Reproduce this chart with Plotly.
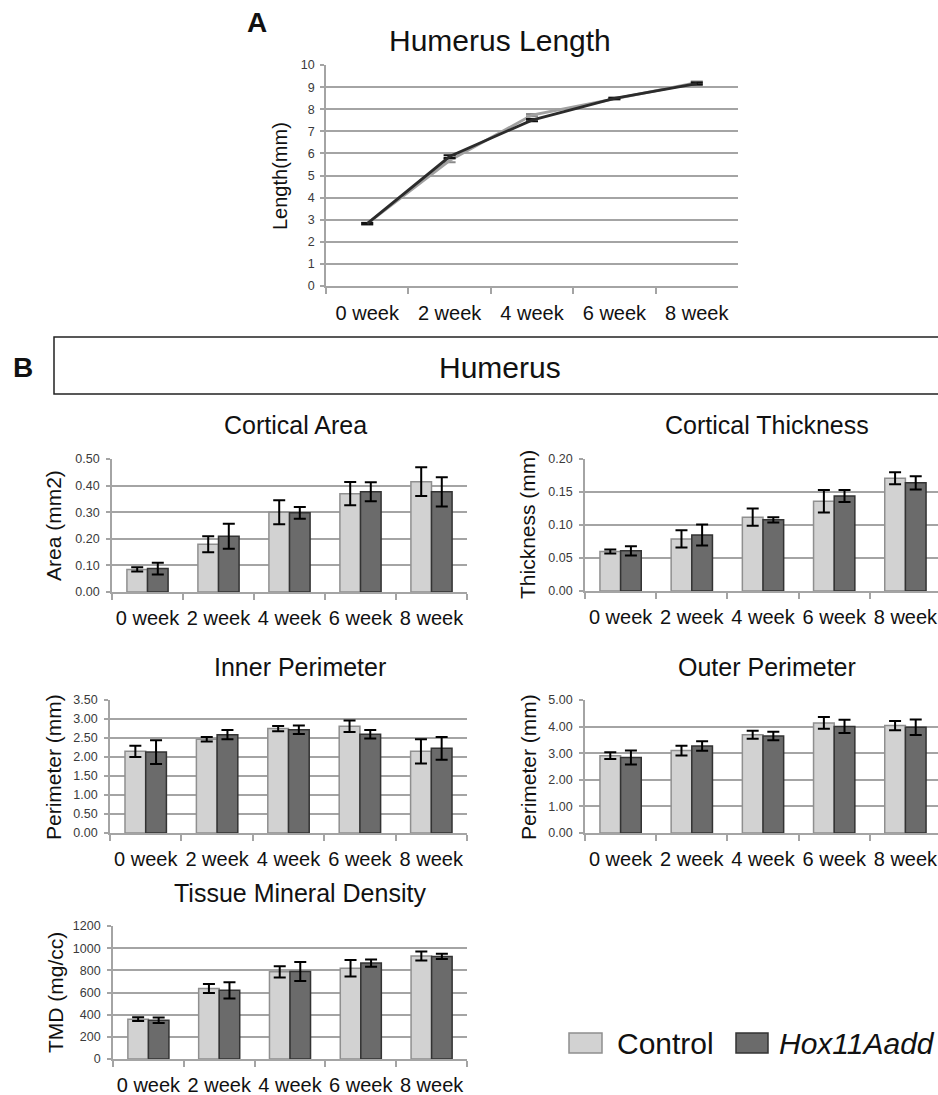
import plotly.graph_objects as go

W, H = 938, 1095
FONT = "Liberation Sans, Arial, Helvetica, sans-serif"

weeks = ["0 week", "2 week", "4 week", "6 week", "8 week"]
series_names = ["Control", "Hox11Aadd"]

# Panel A: Humerus length (mm)
len_ctrl = [2.82, 5.68, 7.74, 8.49, 9.21]
len_ctrl_err = [0.04, 0.08, 0.05, 0.03, 0.05]
len_hox = [2.82, 5.86, 7.51, 8.49, 9.16]
len_hox_err = [0.03, 0.06, 0.05, 0.03, 0.05]

# Panel B
area_ctrl = [0.085, 0.180, 0.300, 0.370, 0.415]
area_ctrl_err = [0.008, 0.030, 0.045, 0.044, 0.054]
area_hox = [0.088, 0.210, 0.298, 0.377, 0.377]
area_hox_err = [0.022, 0.047, 0.022, 0.036, 0.055]

thick_ctrl = [0.060, 0.079, 0.112, 0.136, 0.171]
thick_ctrl_err = [0.003, 0.013, 0.013, 0.017, 0.009]
thick_hox = [0.061, 0.085, 0.108, 0.144, 0.164]
thick_hox_err = [0.007, 0.016, 0.004, 0.009, 0.010]

inner_ctrl = [2.15, 2.47, 2.75, 2.81, 2.15]
inner_ctrl_err = [0.15, 0.06, 0.07, 0.15, 0.32]
inner_hox = [2.13, 2.59, 2.72, 2.60, 2.23]
inner_hox_err = [0.31, 0.12, 0.11, 0.11, 0.30]

outer_ctrl = [2.91, 3.10, 3.70, 4.14, 4.04]
outer_ctrl_err = [0.13, 0.18, 0.15, 0.22, 0.17]
outer_hox = [2.84, 3.27, 3.65, 4.01, 3.98]
outer_hox_err = [0.26, 0.18, 0.16, 0.25, 0.29]

tmd_ctrl = [360, 637, 787, 820, 930]
tmd_ctrl_err = [16, 40, 51, 75, 40]
tmd_hox = [350, 620, 790, 866, 926]
tmd_hox_err = [25, 73, 86, 33, 24]

CTRL_FILL, CTRL_LINE = "#d2d2d2", "#8f8f8f"
HOX_FILL, HOX_LINE = "#6b6b6b", "#333333"
GRID = "#a4a4a4"
TICKC = "#3a3a3a"


def px(x):
    return x / W


def py(y):
    return 1 - y / H


fig = go.Figure()

# ---------- Panel A ----------
fig.add_trace(go.Scatter(
    x=weeks, y=len_ctrl, mode="lines", name=series_names[0],
    line=dict(color="#a0a0a0", width=2.8),
    error_y=dict(type="data", array=len_ctrl_err, color="#8a8a8a", thickness=2, width=6),
    xaxis="x", yaxis="y", showlegend=False))
fig.add_trace(go.Scatter(
    x=weeks, y=len_hox, mode="lines", name=series_names[1],
    line=dict(color="#2b2b2b", width=2.8),
    error_y=dict(type="data", array=len_hox_err, color="#111111", thickness=2, width=6),
    xaxis="x", yaxis="y", showlegend=False))

layout_axes = {}


def xaxis_cfg(domain, rng, anchor, standoff):
    return dict(domain=domain, anchor=anchor, type="category", range=rng,
                showline=True, linecolor=GRID, linewidth=1.8,
                ticks="outside", ticklen=6, tickwidth=1.5, tickcolor=GRID,
                tickson="boundaries", showgrid=False, zeroline=False,
                tickangle=0, automargin=False,
                tickfont=dict(size=20, color="#111111", family=FONT),
                ticklabelstandoff=standoff)


def yaxis_cfg(domain, rng, dtick, fmt, anchor, fsize=12.5, standoff=4):
    return dict(domain=domain, anchor=anchor, range=rng, dtick=dtick, tickformat=fmt,
                showline=True, linecolor=GRID, linewidth=1.8,
                ticks="outside", ticklen=4, tickwidth=1.5, tickcolor=GRID,
                showgrid=True, gridcolor=GRID, gridwidth=1.8, zeroline=False,
                automargin=False,
                tickfont=dict(size=fsize, color=TICKC, family=FONT),
                ticklabelstandoff=standoff)


layout_axes["xaxis"] = xaxis_cfg([px(326), px(738)], [-0.5, 4.5], "y", 8)
layout_axes["yaxis"] = yaxis_cfg([py(286), py(65)], [0, 10.005], 1, "d", "x", fsize=12.5, standoff=3)

# ---------- Panel B bar charts ----------
charts = [
    # (ctrl, ctrl_err, hox, hox_err, x0, x1, ytop, ybot, ymax, dtick, fmt, right_col)
    (area_ctrl, area_ctrl_err, area_hox, area_hox_err, 112, 467, 459, 592, 0.5, 0.1, ".2f", False),
    (thick_ctrl, thick_ctrl_err, thick_hox, thick_hox_err, 585, 938, 459, 591, 0.2, 0.05, ".2f", True),
    (inner_ctrl, inner_ctrl_err, inner_hox, inner_hox_err, 110, 467, 700, 833, 3.5, 0.5, ".2f", False),
    (outer_ctrl, outer_ctrl_err, outer_hox, outer_hox_err, 585, 938, 700, 833, 5.0, 1.0, ".2f", True),
    (tmd_ctrl, tmd_ctrl_err, tmd_hox, tmd_hox_err, 113, 467, 926, 1059, 1200, 200, "d", False),
]

for i, (c, ce, h, he, x0, x1, yt, yb, ymax, dt, fmt, right) in enumerate(charts, start=2):
    xa, ya = f"x{i}", f"y{i}"
    fig.add_trace(go.Bar(
        x=weeks, y=c, name=series_names[0], xaxis=xa, yaxis=ya, showlegend=False,
        marker=dict(color=CTRL_FILL, line=dict(color=CTRL_LINE, width=1.5)),
        error_y=dict(type="data", array=ce, color="#000000", thickness=2, width=6)))
    fig.add_trace(go.Bar(
        x=weeks, y=h, name=series_names[1], xaxis=xa, yaxis=ya, showlegend=False,
        marker=dict(color=HOX_FILL, line=dict(color=HOX_LINE, width=1.5)),
        error_y=dict(type="data", array=he, color="#000000", thickness=2, width=6)))
    if right:
        cat_w = (941 - x0) / 5.0
        xr = [-0.5, 4.5 - (941 - x1) / cat_w]
    else:
        xr = [-0.5, 4.5]
    layout_axes[f"xaxis{i}"] = xaxis_cfg([px(x0), min(px(x1), 1.0)], xr, ya, 7)
    layout_axes[f"yaxis{i}"] = yaxis_cfg([py(yb), py(yt)], [0, ymax * 1.0008], dt, fmt, xa)

# ---------- Text annotations ----------
ann = []


def text(x, y, s, size, bold=False, angle=0, xanchor="center"):
    ann.append(dict(x=px(x), y=py(y), xref="paper", yref="paper", text=s, showarrow=False,
                    xanchor=xanchor, yanchor="middle", textangle=angle,
                    font=dict(size=size, color="#111111", family=FONT,
                              weight="bold" if bold else "normal")))


text(257, 23, "A", 28, bold=True)
text(500, 40, "Humerus Length", 30)
text(280, 176, "Length(mm)", 20, angle=-90)

text(23, 367, "B", 28, bold=True)
text(500, 367, "Humerus", 30)

text(295, 425, "Cortical Area", 25)
text(767, 425, "Cortical Thickness", 25)
text(300, 667, "Inner Perimeter", 25)
text(767, 667, "Outer Perimeter", 25)
text(300, 893, "Tissue Mineral Density", 25)

text(53, 526, "Area (mm2)", 21, angle=-90)
text(528, 525, "Thickness (mm)", 21, angle=-90)
text(53, 767, "Perimeter (mm)", 21, angle=-90)
text(528, 767, "Perimeter (mm)", 21, angle=-90)
text(55, 993, "TMD (mg/cc)", 21, angle=-90)

# legend (swatches + labels)
text(615, 1043, series_names[0], 30, xanchor="left")
text(777, 1043, "<i>" + series_names[1] + "</i>", 30, xanchor="left")

shapes = [
    dict(type="rect", xref="paper", yref="paper", x0=px(54), x1=px(960), y0=py(394), y1=py(337),
         line=dict(color="#222222", width=1.5), fillcolor="rgba(0,0,0,0)"),
    dict(type="rect", xref="paper", yref="paper", x0=px(569), x1=px(602), y0=py(1053), y1=py(1033),
         line=dict(color=CTRL_LINE, width=1.5), fillcolor=CTRL_FILL),
    dict(type="rect", xref="paper", yref="paper", x0=px(736), x1=px(768), y0=py(1053), y1=py(1033),
         line=dict(color=HOX_LINE, width=1.5), fillcolor=HOX_FILL),
]

fig.update_layout(
    width=W, height=H, margin=dict(l=0, r=0, t=0, b=0, autoexpand=False),
    paper_bgcolor="white", plot_bgcolor="white",
    font=dict(family=FONT, color="#111111"),
    barmode="group", bargap=0.42, bargroupgap=0.0,
    annotations=ann, shapes=shapes, showlegend=False,
    **layout_axes,
)

fig.write_html("out.html")
